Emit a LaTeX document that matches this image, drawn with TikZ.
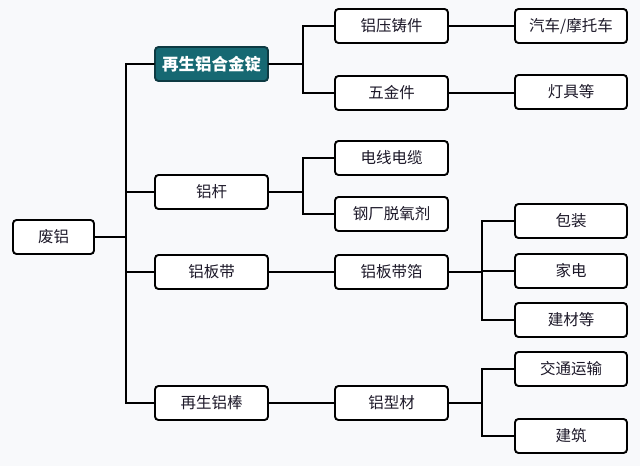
\documentclass[tikz,border=0pt]{standalone}
\usepackage{fontspec}
\newfontfamily\cjk{Noto Sans CJK SC}
\definecolor{bgpaper}{RGB}{248,249,251}
\definecolor{ingotfill}{RGB}{22,104,114}
\definecolor{ingotline}{RGB}{14,58,66}
\definecolor{inkdark}{RGB}{28,24,40}
\begin{document}
\begin{tikzpicture}[line cap=round, x=1pt, y=-1pt,
    box/.style={draw=black, line width=1.9pt, rounded corners=3.5pt, fill=white,
        minimum width=113pt, minimum height=34pt, inner sep=0pt,
        text=inkdark, font=\cjk\fontsize{15.5}{17}\selectfont},
    link/.style={line width=1.9pt}]
                \useasboundingbox[fill=bgpaper] (0, 0) rectangle (640, 466);

                % Root
                \node[box, minimum width=81pt] (scrap) at (53.5, 237) {废铝};

                % Level 1
                \node[box, fill=ingotfill, draw=ingotline, text=white,
                    font=\cjk\bfseries\fontsize{16.5}{18}\selectfont] (ingot) at (211.5, 64) {再生铝合金锭};
                \node[box] (rod) at (211.5, 192) {铝杆};
                \node[box] (sheet) at (211.5, 272) {铝板带};
                \node[box] (bar) at (211.5, 403) {再生铝棒};

                % Level 2
                \node[box] (casting) at (391.5, 26) {铝压铸件};
                \node[box] (hardware) at (391.5, 93) {五金件};
                \node[box] (cable) at (391.5, 158) {电线电缆};
                \node[box] (deox) at (391.5, 214) {钢厂脱氧剂};
                \node[box] (foil) at (391.5, 272) {铝板带箔};
                \node[box] (profile) at (391.5, 403) {铝型材};

                % Level 3
                \node[box, minimum width=112pt] (vehicle) at (571, 26) {汽车/摩托车};
                \node[box, minimum width=112pt] (lamp) at (571, 92) {灯具等};
                \node[box, minimum width=112pt] (pack) at (571, 221) {包装};
                \node[box, minimum width=112pt] (appliance) at (571, 271) {家电};
                \node[box, minimum width=112pt] (material) at (571, 320) {建材等};
                \node[box, minimum width=112pt] (traffic) at (571, 369) {交通运输};
                \node[box, minimum width=112pt] (building) at (571, 436) {建筑};

                % Trunks
                \coordinate (t0) at (126, 237);
                \coordinate (t1) at (303, 60);
                \coordinate (t2) at (303, 186);
                \coordinate (t3) at (482, 272);
                \coordinate (t4) at (482, 403);

                \draw[link] (scrap) -- (t0);
                \draw[link] (t0) |- (ingot);
                \draw[link] (t0) |- (rod);
                \draw[link] (t0) |- (sheet);
                \draw[link] (t0) |- (bar);

                \draw[link] (ingot.east) -- (ingot.east -| t1);
                \draw[link] (t1) |- (casting);
                \draw[link] (t1) |- (hardware);
                \draw[link] (casting) -- (vehicle);
                \draw[link] (hardware.east) -- (hardware.east -| lamp.west);

                \draw[link] (rod.east) -- (rod.east -| t2);
                \draw[link] (t2) |- (cable);
                \draw[link] (t2) |- (deox);

                \draw[link] (sheet) -- (foil);
                \draw[link] (foil) -- (t3);
                \draw[link] (t3) |- (pack);
                \draw[link] (t3) |- (appliance);
                \draw[link] (t3) |- (material);

                \draw[link] (bar) -- (profile);
                \draw[link] (profile) -- (t4);
                \draw[link] (t4) |- (traffic);
                \draw[link] (t4) |- (building);
            \end{tikzpicture}
\end{document}
